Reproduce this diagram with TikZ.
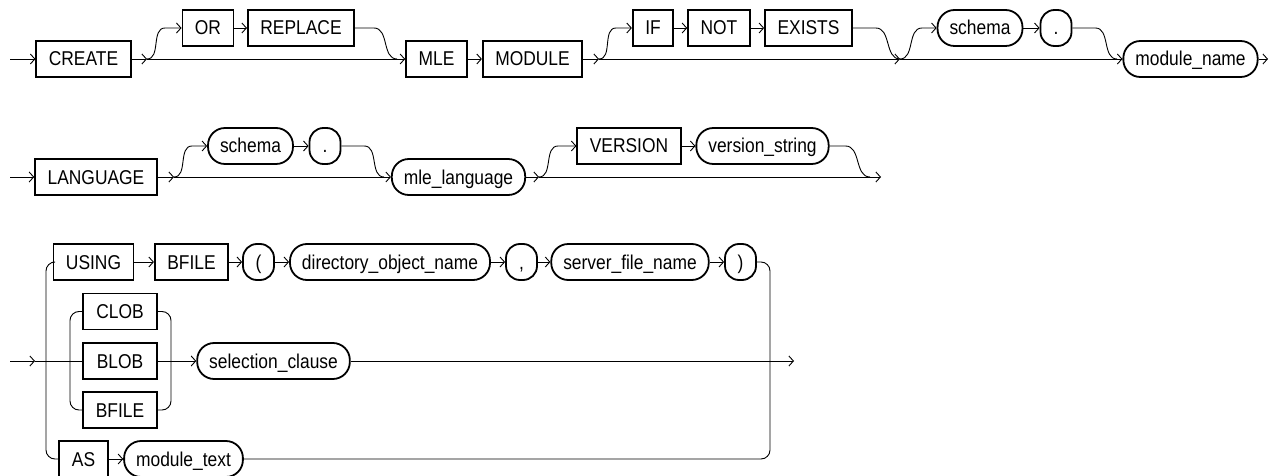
\documentclass[tikz,border=0pt]{standalone}
\usepackage{fontspec}
\newfontfamily\railfont[FakeStretch=0.87]{Liberation Sans}
\usetikzlibrary{arrows.meta}
\definecolor{railink}{HTML}{000000}

\begin{document}
\begin{tikzpicture}[
  x=1pt, y=-1pt,
  font=\railfont\fontsize{20}{24}\selectfont,
  kw/.style={draw=railink, fill=white, line width=1.8pt, minimum height=36pt,
    inner xsep=12.5pt, inner ysep=0pt, text height=14pt, text depth=0pt},
  ident/.style={kw, rounded corners=17pt, inner xsep=12pt},
  punct/.style={kw, rounded corners=14pt, minimum width=31pt, inner xsep=4pt},
  lob/.style={kw, minimum width=74pt},
  line/.style={draw=railink, line width=0.9pt},
  conn/.style={line, -{Straight Barb[length=4.5pt,width=10pt]}},
]
\useasboundingbox (0,0) rectangle (1269,476);

% ===== row 1: CREATE ... module_name =====
\coordinate (s1) at (10,59);
\node[kw] (create) at (83.5,59) {CREATE};
\coordinate (f1) at (147,59);
\node[kw] (kwor) at (208,28) {OR};
\node[kw] (replace) at (301,28) {REPLACE};
\coordinate (j1) at (397,59);
\node[kw] (mle) at (436.5,59) {MLE};
\node[kw] (module) at (532.5,59) {MODULE};
\coordinate (f2) at (599,59);
\node[kw] (kwif) at (653,28) {IF};
\node[kw] (kwnot) at (719,28) {NOT};
\node[kw] (exists) at (808.5,28) {EXISTS};
\coordinate (j2) at (900,59);
\node[ident] (schemaA) at (980,28) {schema};
\node[punct] (dotA) at (1056,28) {.};
\coordinate (j3) at (1117,59);
\node[ident] (modname) at (1190.5,59) {module\_name};
\coordinate (e1) at (1268,59);

\draw[conn] (s1) -- (create);
\draw[conn] (create) -- (f1);
\draw[conn] (f1) -- (mle);
\draw[conn] (f1) to[out=0,in=180] ++(18,-31) -- (kwor);
\draw[conn] (kwor) -- (replace);
\draw[line] (replace.east) -- ++(19,0) to[out=0,in=180] (j1);
\draw[conn] (mle) -- (module);
\draw[conn] (module) -- (f2);
\draw[conn] (f2) -- (j2);
\draw[conn] (f2) to[out=0,in=180] ++(17,-31) -- (kwif);
\draw[conn] (kwif) -- (kwnot);
\draw[conn] (kwnot) -- (exists);
\draw[line] (exists.east) -- ++(23,0) to[out=0,in=180] (j2);
\draw[conn] (j2) -- (modname);
\draw[conn] (j2) to[out=0,in=180] ++(22,-31) -- (schemaA);
\draw[conn] (schemaA) -- (dotA);
\draw[line] (dotA.east) -- ++(23,0) to[out=0,in=180] (j3);
\draw[conn] (modname) -- (e1);

% ===== row 2: LANGUAGE ... version_string =====
\coordinate (s2) at (10,177);
\node[kw] (language) at (96,177) {LANGUAGE};
\coordinate (f4) at (174,177);
\node[ident] (schemaB) at (250.5,146) {schema};
\node[punct] (dotB) at (325,146) {.};
\coordinate (j4) at (384,177);
\node[ident] (mlelang) at (458.5,177) {mle\_language};
\coordinate (f5) at (539,177);
\node[kw] (version) at (629,146) {VERSION};
\node[ident] (verstr) at (762.5,146) {version\_string};
\coordinate (j5) at (870,177);
\coordinate (e2) at (881,177);

\draw[conn] (s2) -- (language);
\draw[conn] (language) -- (f4);
\draw[conn] (f4) -- (mlelang);
\draw[conn] (f4) to[out=0,in=180] ++(18,-31) -- (schemaB);
\draw[conn] (schemaB) -- (dotB);
\draw[line] (dotB.east) -- ++(23,0) to[out=0,in=180] (j4);
\draw[conn] (mlelang) -- (f5);
\draw[conn] (f5) -- (e2);
\draw[conn] (f5) to[out=0,in=180] ++(19,-31) -- (version);
\draw[conn] (version) -- (verstr);
\draw[line] (verstr.east) -- ++(16,0) to[out=0,in=180] (j5);

% ===== row 3: source of the module =====
\coordinate (s3) at (10,361);
\coordinate (a3) at (35,361);
\coordinate (lbus) at (46,361);
\node[kw] (using) at (93.5,262) {USING};
\node[kw] (bfileA) at (191.5,262) {BFILE};
\node[punct] (lpar) at (258.5,262) {(};
\node[ident] (dirobj) at (390,262) {directory\_object\_name};
\node[punct] (comma) at (521.5,262) {,};
\node[ident] (srvfile) at (630,262) {server\_file\_name};
\node[punct] (rpar) at (740.5,262) {)};
\node[lob] (clob) at (120,311.5) {CLOB};
\node[lob] (blob) at (120,361) {BLOB};
\node[lob] (bfileB) at (120,410) {BFILE};
\coordinate (ibl) at (70,361);
\coordinate (ibr) at (171,361);
\node[ident] (selcl) at (273.5,361) {selection\_clause};
\coordinate (rbus) at (770,361);
\coordinate (e3) at (794,361);
\node[kw] (askw) at (83.5,459) {AS};
\node[ident] (modtext) at (183.5,459) {module\_text};

\draw[conn] (s3) -- (a3);
\draw[line] (a3) -- (blob);
\draw[line, rounded corners=9pt] (using.west) -| (lbus) |- (askw.west);
\draw[line, rounded corners=9pt] (clob.west) -| (ibl) |- (bfileB.west);
\draw[line, rounded corners=9pt] (clob.east) -| (ibr) |- (bfileB.east);
\draw[conn] (blob) -- (selcl);
\draw[conn] (selcl) -- (e3);
\draw[conn] (using) -- (bfileA);
\draw[conn] (bfileA) -- (lpar);
\draw[conn] (lpar) -- (dirobj);
\draw[conn] (dirobj) -- (comma);
\draw[conn] (comma) -- (srvfile);
\draw[conn] (srvfile) -- (rpar);
\draw[line, rounded corners=9pt] (rpar.east) -| (rbus) |- (modtext.east);
\draw[conn] (askw) -- (modtext);

\end{tikzpicture}
\end{document}
